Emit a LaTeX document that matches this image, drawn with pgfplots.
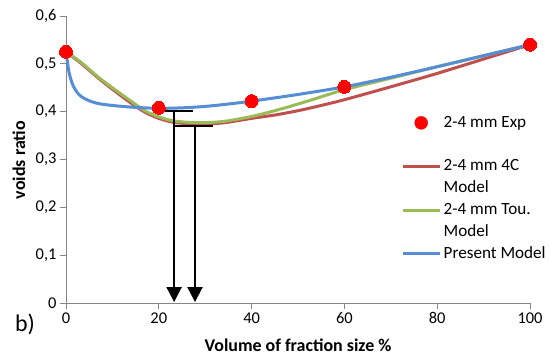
\documentclass[border=0pt]{standalone}
\usepackage{fontspec}
\setmainfont{Carlito}
\usepackage{pgfplots}
\pgfplotsset{compat=1.18}
\usetikzlibrary{arrows.meta}

\definecolor{expred}{RGB}{255,0,0}
\definecolor{fourc}{RGB}{192,80,77}
\definecolor{tou}{RGB}{155,187,89}
\definecolor{present}{RGB}{85,142,213}
\definecolor{axisgray}{RGB}{134,134,134}

\pgfplotsset{
  shortline/.style={legend image code/.code={\draw[##1] (0bp,0bp) -- (37bp,0bp);}},
  dotlegend/.style={legend image code/.code={\fill[expred] (18.5bp,0bp) circle (6.5bp);}},
}

\begin{document}
\begin{tikzpicture}[x=1bp,y=1bp]
\path[use as bounding box] (-66,-56) rectangle (483,303);
\begin{axis}[
  at={(0,0)}, anchor=south west,
  scale only axis, width=464bp, height=287bp,
  xmin=0, xmax=100, ymin=0, ymax=0.6,
  clip=false,
  axis x line*=bottom, axis y line*=left,
  axis line style={axisgray, line width=0.8bp},
  xtick={0,20,40,60,80,100},
  ytick={0,0.1,0.2,0.3,0.4,0.5,0.6},
  yticklabels={0,{0,1},{0,2},{0,3},{0,4},{0,5},{0,6}},
  tick style={axisgray, line width=0.8bp},
  tick align=outside, major tick length=6bp,
  /pgf/number format/assume math mode=true,
  ticklabel style={font=\fontsize{16.5}{19}\selectfont, black},
  xlabel={\textbf{Volume of fraction size \%}},
  ylabel={\textbf{voids ratio}},
  label style={font=\fontsize{18}{21}\selectfont},
  xlabel style={at={(axis description cs:0.5,-0.1463)}, anchor=center},
  ylabel style={at={(axis description cs:-0.1013,0.498)}, anchor=center},
  legend cell align=left,
  legend style={at={(rel axis cs:0.7155,0.665)}, anchor=north west,
    draw=none, fill=none, font=\fontsize{17.2}{20}\selectfont,
    nodes={inner sep=0pt, text height=13bp, text depth=4bp},
    row sep=4.8bp, column sep=2.5bp},
]
% legend entries: experiment marker first, then the three model curves
\addlegendimage{dotlegend}
\addlegendentry{2-4 mm Exp}
\addlegendimage{empty legend}
\addlegendentry{}

% 2-4 mm 4C model
\addplot[fourc, line width=3bp, smooth, tension=0.5, shortline] coordinates {
  (0,0.525) (3,0.503) (7,0.470) (10,0.447) (14,0.418) (17,0.399)
  (20,0.386) (23,0.378) (26,0.375) (29,0.374) (32,0.375) (35,0.378)
  (40,0.386) (45,0.393) (50,0.402) (55,0.413) (60,0.425) (70,0.452)
  (80,0.480) (90,0.510) (100,0.540)};
\addlegendentry{2-4 mm 4C}
\addlegendimage{empty legend}
\addlegendentry{Model}

% 2-4 mm Toufar model
\addplot[tou, line width=3bp, smooth, tension=0.5, shortline] coordinates {
  (0,0.525) (3,0.505) (7,0.472) (10,0.450) (14,0.422) (17,0.402)
  (20,0.389) (23,0.381) (26,0.378) (29,0.377) (32,0.378) (35,0.381)
  (40,0.390) (45,0.402) (50,0.416) (55,0.431) (60,0.446) (70,0.470)
  (80,0.494) (90,0.517) (100,0.540)};
\addlegendentry{2-4 mm Tou.}
\addlegendimage{empty legend}
\addlegendentry{Model}

% present model
\addplot[present, line width=3bp, smooth, tension=0.5, shortline] coordinates {
  (0,0.525) (0.3,0.505) (0.7,0.480) (1.5,0.455) (2.5,0.439) (3.7,0.429)
  (5.5,0.421) (7.5,0.416) (11,0.412) (15,0.409) (20,0.407) (25,0.408)
  (30,0.411) (35,0.416) (40,0.422) (50,0.436) (60,0.452) (70,0.472)
  (80,0.494) (90,0.517) (100,0.540)};
\addlegendentry{Present Model}

% experimental points
\addplot[only marks, mark=*, mark size=6.5bp, mark options={fill=expred, draw=expred, line width=0pt},
  forget plot] coordinates {
  (0,0.525) (20,0.408) (40,0.422) (60,0.452) (100,0.540)};

% minimum markers with arrows down to the axis
\draw[black, line width=2bp] (axis cs:18.75,0.402) -- (axis cs:27.4,0.402);
\draw[black, line width=2bp] (axis cs:23.5,0.370) -- (axis cs:31.7,0.370);
\draw[black, line width=2bp, -{Triangle[width=15bp,length=15bp]}]
  (axis cs:23.3,0.402) -- (axis cs:23.3,0.002);
\draw[black, line width=2bp, -{Triangle[width=15bp,length=15bp]}]
  (axis cs:27.8,0.370) -- (axis cs:27.8,0.002);
\end{axis}
\node[font=\fontsize{24}{28}\selectfont] at (-41,-21) {b)};
\end{tikzpicture}
\end{document}
